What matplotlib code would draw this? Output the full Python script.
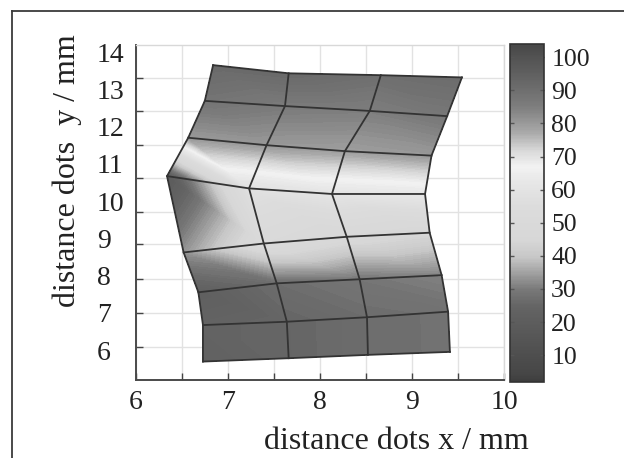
import numpy as np
import matplotlib
matplotlib.use("Agg")
import matplotlib.pyplot as plt
import matplotlib.tri as mtri
from matplotlib.colors import LinearSegmentedColormap, Normalize
from matplotlib.cm import ScalarMappable
from matplotlib.lines import Line2D

plt.rcParams["font.family"] = ["Liberation Serif", "DejaVu Serif"]

# ---- data: deformed dot grid (8 rows x 4 columns of nodes) ----
x_nodes = np.array([
    [6.84, 7.66, 8.66, 9.54],
    [6.75, 7.62, 8.54, 9.38],
    [6.57, 7.42, 8.27, 9.21],
    [6.34, 7.23, 8.13, 9.14],
    [6.52, 7.39, 8.29, 9.19],
    [6.68, 7.53, 8.43, 9.32],
    [6.73, 7.64, 8.51, 9.39],
    [6.73, 7.66, 8.52, 9.41],
])
y_nodes = np.array([
    [13.65, 13.43, 13.38, 13.32],
    [12.69, 12.55, 12.42, 12.28],
    [11.70, 11.50, 11.34, 11.22],
    [10.67, 10.34, 10.19, 10.19],
    [8.62, 8.86, 9.04, 9.15],
    [7.55, 7.79, 7.90, 8.01],
    [6.67, 6.76, 6.88, 7.03],
    [5.69, 5.78, 5.87, 5.95],
])
node_values = np.array([
    [92, 92, 90, 91],
    [88, 86, 85, 87],
    [80, 80, 79, 80],
    [18, 58, 60, 62],
    [33, 50, 47, 45],
    [22, 27, 29, 31],
    [24, 25, 27, 28],
    [23, 25, 27, 28],
])

x_ticks = [6, 7, 8, 9, 10]
y_ticks = [6, 7, 8, 9, 10, 11, 12, 13, 14]
cbar_ticks = [10, 20, 30, 40, 50, 60, 70, 80, 90, 100]
vmin, vmax = 2, 104

# colour scale (value, grey level)
cmap_pts = [(2, 62), (4.3, 70), (14.4, 85), (24.6, 100), (29.6, 120), (34.7, 160),
            (39.7, 200), (44.8, 215), (54.9, 220), (63, 232), (67, 242), (72.1, 215),
            (77.2, 170), (85.3, 125), (95.4, 95), (104, 72)]
cmap = LinearSegmentedColormap.from_list(
    "grey_scan",
    [((v - vmin) / (vmax - vmin), (g / 255, g / 255, g / 255)) for v, g in cmap_pts])
norm = Normalize(vmin, vmax)

W, H = 624, 458
fig = plt.figure(figsize=(W / 100, H / 100), dpi=100)
ax = fig.add_axes([135.7 / W, 1 - 380 / H, (504.3 - 135.7) / W, (380 - 45) / H])
cax = fig.add_axes([510 / W, 1 - 381.7 / H, 34.3 / W, (381.7 - 44) / H])

# outer frame
fig.add_artist(Line2D([12 / W, 1.0], [1 - 11 / H, 1 - 11 / H], transform=fig.transFigure,
                      color="#3a3a3a", lw=1.3))
fig.add_artist(Line2D([12 / W, 12 / W], [1 - 11 / H, 0.0], transform=fig.transFigure,
                      color="#3a3a3a", lw=1.3))

# triangulation of the quad mesh
nr, nc = x_nodes.shape
tris = []
for i in range(nr - 1):
    for j in range(nc - 1):
        a, b = i * nc + j, i * nc + j + 1
        c, d = (i + 1) * nc + j + 1, (i + 1) * nc + j
        tris.append([a, b, c])
        tris.append([a, c, d])
tri = mtri.Triangulation(x_nodes.ravel(), y_nodes.ravel(), np.array(tris))
ax.tricontourf(tri, node_values.ravel().astype(float),
               levels=np.linspace(vmin, vmax, 160), cmap=cmap, norm=norm, zorder=2)

for i in range(nr):
    ax.plot(x_nodes[i], y_nodes[i], color="#333333", lw=1.3, zorder=3)
for j in range(nc):
    ax.plot(x_nodes[:, j], y_nodes[:, j], color="#333333", lw=1.3, zorder=3)

ax.set_xlim(6, 10)
ax.set_ylim(5.195, 14.19)

ax.set_xticks(x_ticks)
ax.set_xticks([6.5, 7.5, 8.5, 9.5], minor=True)
ax.set_yticks(y_ticks)
ax.set_yticks([6.09, 6.99, 7.91, 8.85, 9.71, 10.63, 11.50, 12.42, 13.31], minor=True)
ax.set_xticklabels([str(t) for t in x_ticks])
ax.set_yticklabels([str(t) for t in y_ticks])

ax.tick_params(axis="x", which="both", direction="in", length=5, width=1, color="#444444",
               labelsize=20, pad=7, labelcolor="#222222")
ax.tick_params(axis="y", which="major", length=0, labelsize=20, pad=28, labelcolor="#222222")
ax.tick_params(axis="y", which="minor", direction="in", length=5, width=1, color="#444444")
for t in ax.get_yticklabels():
    t.set_horizontalalignment("left")

ax.grid(False)
ax.xaxis.grid(True, which="both", color="#e2e2e2", lw=1.0, zorder=0)
ax.yaxis.grid(True, which="minor", color="#e2e2e2", lw=1.0, zorder=0)
ax.set_axisbelow(True)

for s in ["top", "right"]:
    ax.spines[s].set_color("#d8d8d8")
    ax.spines[s].set_linewidth(1.0)
for s in ["left", "bottom"]:
    ax.spines[s].set_color("#4a4a4a")
    ax.spines[s].set_linewidth(1.4)

# colour bar
cb = fig.colorbar(ScalarMappable(norm=norm, cmap=cmap), cax=cax, ticks=cbar_ticks)
cb.outline.set_edgecolor("#333333")
cb.outline.set_linewidth(1.2)
cax.tick_params(direction="in", length=3, width=1, color="#555555", labelsize=18.5,
                pad=5, labelcolor="#222222", left=True, right=True)

# axis labels
fig.text(396.5 / W, 1 - 449 / H, "distance dots x / mm", ha="center", va="baseline",
         fontsize=23, color="#222222")
fig.text(67 / W, 1 - 171 / H, "distance dots  y / mm", ha="center", va="center",
         rotation=90, fontsize=23, color="#222222")

fig.savefig("out.png", dpi=100)
